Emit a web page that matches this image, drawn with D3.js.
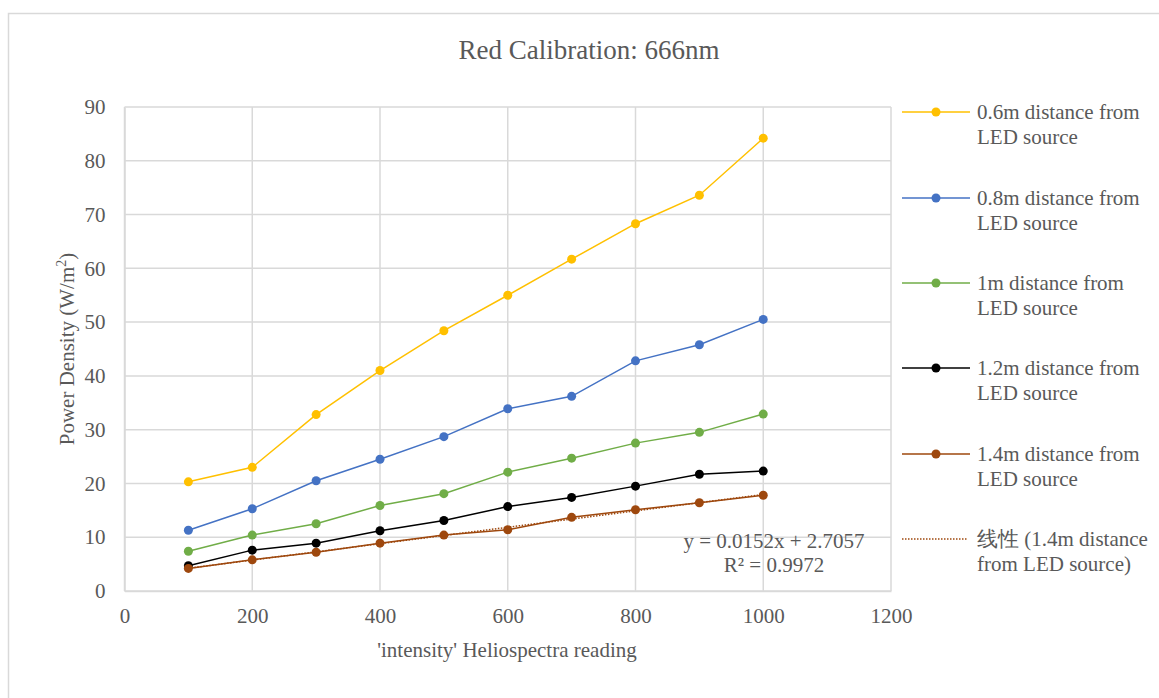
<!DOCTYPE html>
<html><head><meta charset="utf-8">
<script src="https://cdn.jsdelivr.net/npm/d3@7"></script>
<style>body{margin:0;background:#fff;}svg{display:block;}</style>
</head><body>
<svg id="chart" width="1159" height="698"></svg>
<script>
const xValues = [100,200,300,400,500,600,700,800,900,1000];
const s06 = [20.3,23.0,32.8,41.0,48.4,55.0,61.7,68.3,73.6,84.2];
const s08 = [11.3,15.3,20.5,24.5,28.7,33.9,36.2,42.8,45.8,50.5];
const s10 = [7.4,10.4,12.5,15.9,18.1,22.1,24.7,27.5,29.5,32.9];
const s12 = [4.7,7.6,8.9,11.2,13.1,15.7,17.4,19.5,21.7,22.3];
const s14 = [4.2,5.8,7.2,8.9,10.4,11.4,13.7,15.1,16.4,17.8];
const seriesNames = ["0.6m distance from LED source","0.8m distance from LED source","1m distance from LED source","1.2m distance from LED source","1.4m distance from LED source"];
const seriesColors = ["#FFC000","#4472C4","#70AD47","#000000","#9E480E"];
const trendName = "线性 (1.4m distance from LED source)";
const trendEq = "y = 0.0152x + 2.7057";
const trendR2 = "R² = 0.9972";
const xTicks = [0,200,400,600,800,1000,1200];
const yTicks = [0,10,20,30,40,50,60,70,80,90];
const title = "Red Calibration: 666nm";
const xTitle = "'intensity' Heliospectra reading";

const svg = d3.select("#chart");
const font = "'Liberation Serif','Times New Roman',serif";
const txt = "#595959";
const grid = "#d9d9d9";
const fs = 21;

// outer frame
svg.append("rect").attr("x",8.5).attr("y",13.5).attr("width",1200).attr("height",800)
  .attr("fill","#fff").attr("stroke","#d9d9d9").attr("stroke-width",1.5);

const L=124.5, R=891, T=107, B=591;
const x = d3.scaleLinear().domain([0,1200]).range([L,R]);
const y = d3.scaleLinear().domain([0,90]).range([B,T]);

// gridlines
svg.append("g").selectAll("line").data(yTicks).join("line")
  .attr("x1",L).attr("x2",R).attr("y1",d=>y(d)).attr("y2",d=>y(d))
  .attr("stroke",grid).attr("stroke-width",1.5);
svg.append("g").selectAll("line").data(xTicks).join("line")
  .attr("y1",T).attr("y2",B).attr("x1",d=>x(d)).attr("x2",d=>x(d))
  .attr("stroke",grid).attr("stroke-width",1.5);

// axes
const xa = svg.append("g").attr("transform",`translate(0,${B})`)
  .call(d3.axisBottom(x).tickValues(xTicks).tickSize(0).tickPadding(17).tickFormat(d3.format("d")));
xa.select(".domain").attr("stroke",grid).attr("stroke-width",1.5);
xa.selectAll("text").attr("font-family",font).attr("font-size",fs).attr("fill",txt);
const ya = svg.append("g").attr("transform",`translate(${L},0)`)
  .call(d3.axisLeft(y).tickValues(yTicks).tickSize(0).tickPadding(19).tickFormat(d3.format("d")));
ya.select(".domain").attr("stroke",grid).attr("stroke-width",1.5);
ya.selectAll("text").attr("font-family",font).attr("font-size",fs).attr("fill",txt);

// series
const allSeries = [s06,s08,s10,s12,s14];
const line = d3.line().x(d=>x(d[0])).y(d=>y(d[1]));
allSeries.forEach((s,i)=>{
  const pts = xValues.map((v,j)=>[v,s[j]]);
  svg.append("path").datum(pts).attr("d",line).attr("fill","none")
    .attr("stroke",seriesColors[i]).attr("stroke-width",1.5);
  svg.append("g").selectAll("circle").data(pts).join("circle")
    .attr("cx",d=>x(d[0])).attr("cy",d=>y(d[1])).attr("r",4.5).attr("fill",seriesColors[i]);
  if(i===4){
    const n=xValues.length, mx=d3.mean(xValues), my=d3.mean(s);
    const slope=d3.sum(xValues,(v,j)=>(v-mx)*(s[j]-my))/d3.sum(xValues,v=>(v-mx)*(v-mx));
    const icpt=my-slope*mx;
    const tp=[[xValues[0],icpt+slope*xValues[0]],[xValues[n-1],icpt+slope*xValues[n-1]]];
    svg.append("path").datum(tp).attr("d",line).attr("fill","none")
      .attr("stroke","#9E480E").attr("stroke-width",1.5).attr("stroke-dasharray","1.5,1.5");
  }
});

// trend label
svg.append("text").attr("x",774).attr("y",548).attr("text-anchor","middle")
  .attr("font-family",font).attr("font-size",fs).attr("fill",txt).text(trendEq);
svg.append("text").attr("x",774).attr("y",572).attr("text-anchor","middle")
  .attr("font-family",font).attr("font-size",fs).attr("fill",txt).text(trendR2);

// title
svg.append("text").attr("x",589).attr("y",59).attr("text-anchor","middle")
  .attr("font-family",font).attr("font-size",27).attr("fill",txt).text(title);
// axis titles
svg.append("text").attr("x",507).attr("y",657).attr("text-anchor","middle")
  .attr("font-family",font).attr("font-size",fs).attr("fill",txt).text(xTitle);
const yt = svg.append("text").attr("transform","translate(74,349) rotate(-90)").attr("text-anchor","middle")
  .attr("font-family",font).attr("font-size",fs).attr("fill",txt);
yt.append("tspan").text("Power Density (W/m");
yt.append("tspan").attr("font-size",14).attr("dy",-8).text("2");
yt.append("tspan").attr("dy",8).text(")");

// legend
const legY = [112,198,283,368,454,539];
const splitName = n => { const k = n.indexOf(" LED"); return [n.slice(0,k), n.slice(k+1)]; };
seriesNames.forEach((nm,i)=>{
  const g = svg.append("g").attr("transform",`translate(0,${legY[i]})`);
  g.append("line").attr("x1",902).attr("x2",970).attr("stroke",seriesColors[i]).attr("stroke-width",1.5);
  g.append("circle").attr("cx",936).attr("r",4.5).attr("fill",seriesColors[i]);
  const [a,b] = splitName(nm);
  g.append("text").attr("x",977).attr("y",7).attr("font-family",font).attr("font-size",fs).attr("fill",txt).text(a);
  g.append("text").attr("x",977).attr("y",32).attr("font-family",font).attr("font-size",fs).attr("fill",txt).text(b);
});
{
  const g = svg.append("g").attr("transform",`translate(0,${legY[5]})`);
  g.append("line").attr("x1",902).attr("x2",968).attr("stroke","#9E480E").attr("stroke-width",1.5).attr("stroke-dasharray","1.5,1.5");
  const k = trendName.indexOf(" from");
  g.append("text").attr("x",977).attr("y",7).attr("font-family",font).attr("font-size",fs).attr("fill",txt).text(trendName.slice(0,k));
  g.append("text").attr("x",977).attr("y",32).attr("font-family",font).attr("font-size",fs).attr("fill",txt).text(trendName.slice(k+1));
}
</script>
</body></html>
